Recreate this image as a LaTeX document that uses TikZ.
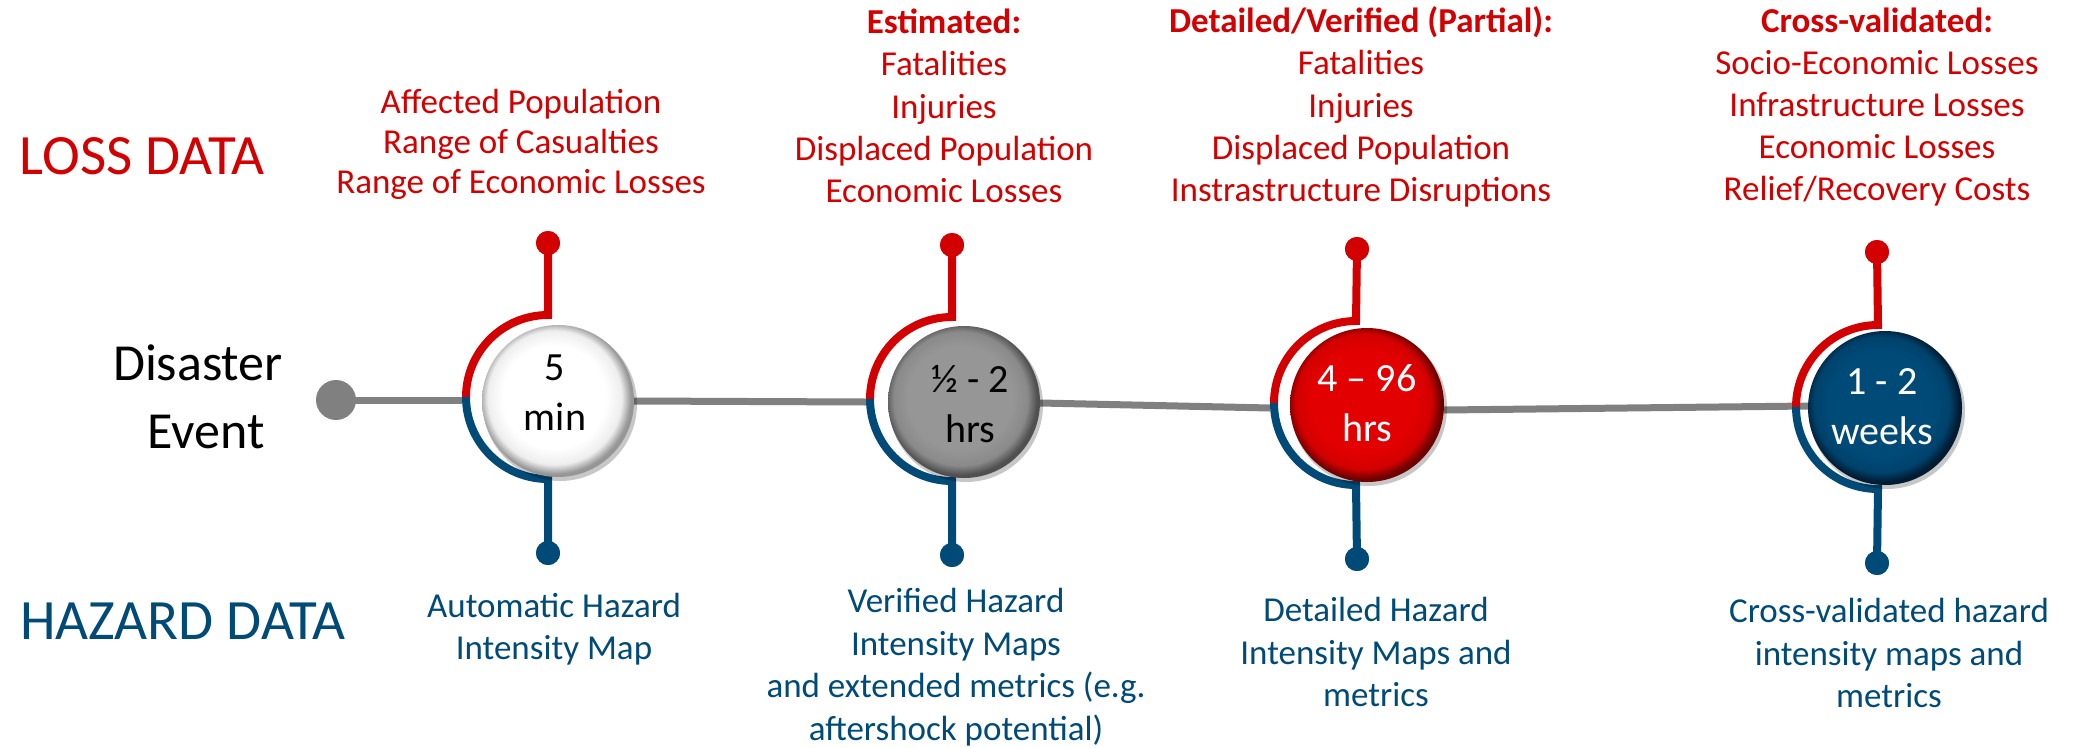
\documentclass[tikz,border=0pt]{standalone}
\usepackage{fontspec}
\setmainfont{Carlito}
\usetikzlibrary{calc}
\definecolor{lossred}{RGB}{210,0,0}
\definecolor{hazblue}{RGB}{0,74,119}
\definecolor{linegray}{RGB}{128,128,128}
\definecolor{wA}{RGB}{255,255,255}
\definecolor{wB}{RGB}{238,238,238}
\definecolor{wC}{RGB}{150,150,150}
\definecolor{gA}{RGB}{150,150,150}
\definecolor{gB}{RGB}{138,138,138}
\definecolor{gC}{RGB}{80,80,80}
\definecolor{rA}{RGB}{226,0,0}
\definecolor{rB}{RGB}{210,0,0}
\definecolor{rC}{RGB}{110,0,0}
\definecolor{bA}{RGB}{0,74,120}
\definecolor{bB}{RGB}{0,66,108}
\definecolor{bC}{RGB}{0,28,50}
\pgfdeclareradialshading{btnwhite}{\pgfpoint{-2bp}{2bp}}{color(0bp)=(wA); color(17bp)=(wA); color(22bp)=(wB); color(25bp)=(wC); color(50bp)=(wC)}
\pgfdeclareradialshading{btngray}{\pgfpoint{-2bp}{2bp}}{color(0bp)=(gA); color(17bp)=(gA); color(22bp)=(gB); color(25bp)=(gC); color(50bp)=(gC)}
\pgfdeclareradialshading{btnred}{\pgfpoint{-2bp}{2bp}}{color(0bp)=(rA); color(17bp)=(rA); color(22bp)=(rB); color(25bp)=(rC); color(50bp)=(rC)}
\pgfdeclareradialshading{btnblue}{\pgfpoint{-2bp}{2bp}}{color(0bp)=(bA); color(17bp)=(bA); color(22bp)=(bB); color(25bp)=(bC); color(50bp)=(bC)}
\begin{document}
\begin{tikzpicture}[x=1pt,y=1pt,
  lossline/.style={draw=lossred, line width=8pt, line join=miter},
  hazline/.style={draw=hazblue, line width=8pt, line join=miter},
  axisline/.style={draw=linegray, line width=7pt},
  lossdot/.style={circle, fill=lossred, minimum size=24pt, inner sep=0pt},
  hazdot/.style={circle, fill=hazblue, minimum size=24pt, inner sep=0pt},
  losstext/.style={text=lossred, align=center, font=\fontsize{35}{42.2}\selectfont, inner sep=0pt},
  haztext/.style={text=hazblue, align=center, font=\fontsize{35}{42.5}\selectfont, inner sep=0pt},
  bigtitle/.style={font=\fontsize{57}{62}\selectfont, inner sep=0pt},
  btntext/.style={align=center, font=\fontsize{40}{50}\selectfont, inner sep=0pt},
  btn/.style={circle, inner sep=0pt, minimum size=#1},
  btnshadow/.style={fill=black, opacity=0.22}
]
\useasboundingbox (0,-747) rectangle (2080,0);

% titles
\node[bigtitle, text=lossred] (losstitle) at (142,-156) {LOSS DATA};
\node[bigtitle, text=hazblue] (haztitle) at (183,-621) {HAZARD DATA};
\node[align=center, font=\fontsize{52}{68}\selectfont, inner sep=0pt] (event) at (206,-397) {Disaster\kern16pt\\Event};

% start dot
\node[circle, fill=linegray, minimum size=40pt, inner sep=0pt] (start) at (336,-400) {};

% buttons (placeholders for names)
\node[btn=152pt] (b1) at (558,-401) {};
\node[btn=152pt] (b2) at (964,-402) {};
\node[btn=154pt] (b3) at (1367,-405) {};
\node[btn=154pt] (b4) at (1885,-408) {};

% axis coordinates
\coordinate (g1) at (462,-400);
\coordinate (g2a) at (634,-401);
\coordinate (g2) at (866,-402);
\coordinate (g3a) at (1040,-403);
\coordinate (g3) at (1270,-408);
\coordinate (g4a) at (1444,-410);
\coordinate (g4) at (1810,-406);

\draw[axisline] (start.center) -- (g1);
\draw[axisline] (g2a) -- (g2);
\draw[axisline] (g3a) -- (g3);
\draw[axisline] (g4a) -- (g4);

% arc tops / bottoms and dots
\coordinate (k1) at (548,-315); \coordinate (m1) at (548,-479);
\coordinate (k2) at (952,-317); \coordinate (m2) at (952,-481);
\coordinate (k3) at (1356,-321); \coordinate (m3) at (1356,-485);
\coordinate (k4) at (1878,-325); \coordinate (m4) at (1878,-489);

\node[lossdot] (ld1) at (548,-243) {};
\node[lossdot] (ld2) at (952,-245) {};
\node[lossdot] (ld3) at (1357,-249) {};
\node[lossdot] (ld4) at (1877,-252) {};
\node[hazdot] (hd1) at (548,-553) {};
\node[hazdot] (hd2) at (952,-555) {};
\node[hazdot] (hd3) at (1357,-559) {};
\node[hazdot] (hd4) at (1877,-563) {};

\foreach \i in {1,2,3,4}{
  \draw[lossline] (ld\i.center) -- (k\i) arc[start angle=90, end angle=180, radius=82pt];
  \draw[hazline] (hd\i.center) -- (m\i) arc[start angle=270, end angle=180, radius=82pt];
}
\foreach \i in {1,2,3,4}{
  \node[lossdot] at (ld\i) {};
  \node[hazdot] at (hd\i) {};
}

% buttons
\fill[btnshadow] ($(b1.center)+(2,-3)$) circle[radius=77pt];
\fill[btnshadow] ($(b2.center)+(2,-3)$) circle[radius=77pt];
\fill[btnshadow] ($(b3.center)+(2,-3)$) circle[radius=78pt];
\fill[btnshadow] ($(b4.center)+(2,-3)$) circle[radius=78pt];
\path[shading=btnwhite] (b1.center) circle[radius=76pt];
\path[shading=btngray] (b2.center) circle[radius=76pt];
\path[shading=btnred] (b3.center) circle[radius=77pt];
\path[shading=btnblue] (b4.center) circle[radius=77pt];

\node[btntext, text=black] (t1) at (555,-393) {5\\min};
\node[btntext, text=black] (t2) at (970,-404) {½ - 2\\hrs};
\node[btntext, text=white] (t3) at (1367,-403) {4 – 96\\hrs};
\node[btntext, text=white] (t4) at (1882,-407) {1 - 2\\weeks};

% loss texts
\node[losstext, font=\fontsize{35}{40}\selectfont] (l1) at (521,-144.5) {Affected Population\\Range of Casualties\\Range of Economic Losses};
\node[losstext] (l2) at (944,-106) {\textbf{Estimated:}\\Fatalities\\Injuries\\Displaced Population\\Economic Losses};
\node[losstext] (l3) at (1361,-107) {\textbf{Detailed/Verified (Partial):}\\Fatalities\\Injuries\\Displaced Population\\Instrastructure Disruptions};
\node[losstext] (l4) at (1877,-107) {\textbf{Cross-validated:}\\Socio-Economic Losses\\Infrastructure Losses\\Economic Losses\\Relief/Recovery Costs};

% hazard texts
\node[haztext] (h1) at (554,-629) {Automatic Hazard\\Intensity Map};
\node[haztext] (h2) at (956,-667) {Verified Hazard\\Intensity Maps\\and extended metrics (e.g.\\aftershock potential)};
\node[haztext] (h3) at (1376,-652) {Detailed Hazard\\Intensity Maps and\\metrics};
\node[haztext] (h4) at (1889,-653) {Cross-validated hazard\\intensity maps and\\metrics};
\end{tikzpicture}
\end{document}
